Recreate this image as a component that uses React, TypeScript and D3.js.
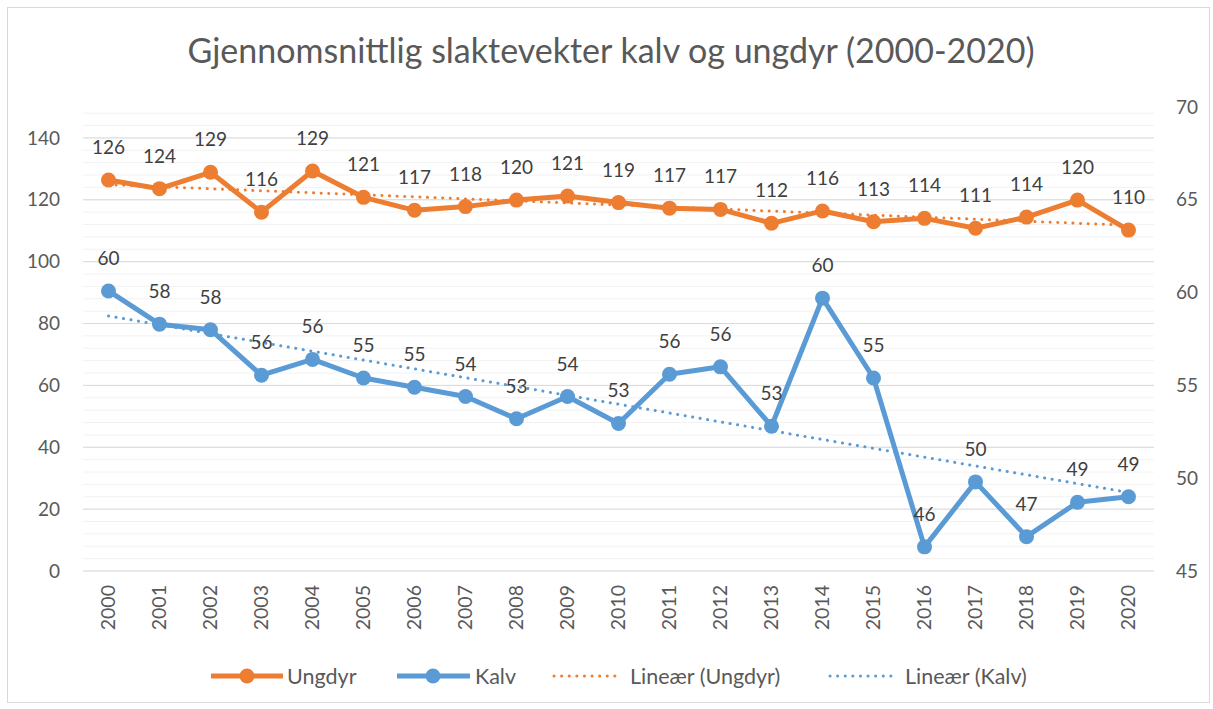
import React from "react";
import * as d3 from "d3";

const years = ["2000","2001","2002","2003","2004","2005","2006","2007","2008","2009","2010","2011","2012","2013","2014","2015","2016","2017","2018","2019","2020"];
const ungdyr = [126.4,123.6,128.9,116.0,129.3,120.8,116.6,117.8,119.9,121.2,119.1,117.3,116.9,112.4,116.4,112.9,114.0,110.8,114.4,119.9,110.2];
const kalv = [60.09,58.3,58.0,55.55,56.4,55.4,54.9,54.4,53.2,54.4,52.95,55.6,56.0,52.8,59.7,55.4,46.3,49.8,46.85,48.7,49.0];
const leftTicks = [0,20,40,60,80,100,120,140];
const rightTicks = [45,50,55,60,65,70];
const title = "Gjennomsnittlig slaktevekter kalv og ungdyr (2000-2020)";

const ORANGE = "#ED7D31";
const BLUE = "#5B9BD5";
const FONT = "Lato, 'Open Sans', sans-serif";

function linReg(vals: number[]) {
  const n = vals.length;
  const xs = vals.map((_, i) => i);
  const mx = d3.mean(xs)!;
  const my = d3.mean(vals)!;
  let num = 0, den = 0;
  xs.forEach((x, i) => { num += (x - mx) * (vals[i] - my); den += (x - mx) ** 2; });
  const b = num / den;
  const a = my - b * mx;
  return [a, a + b * (n - 1)];
}

export default function App() {
  const W = 1213, H = 709;
  const x = d3.scaleBand().domain(years).range([83, 1154]).padding(0);
  const cx = (y: string) => (x(y) as number) + x.bandwidth() / 2;
  const yL = d3.scaleLinear().domain([0, 150]).range([571, 107]);
  const yR = d3.scaleLinear().domain([45, 70]).range([571, 107]);
  const minor = d3.range(0, 149, 4);
  const fmt = d3.format(".0f");

  const lineU = d3.line<number>().x((_, i) => cx(years[i])).y(d => yL(d));
  const lineK = d3.line<number>().x((_, i) => cx(years[i])).y(d => yR(d));
  const tU = linReg(ungdyr);
  const tK = linReg(kalv);
  const x0 = cx(years[0]), x1 = cx(years[years.length - 1]);

  const legendY = 676;

  return (
    <svg width={W} height={H} style={{ position: "absolute", left: 0, top: 0, display: "block", background: "#fff" }} fontFamily={FONT}>
      <rect x={0} y={0} width={W} height={H} fill="#fff" />
      <rect x={7.5} y={7.5} width={1202} height={695} fill="none" stroke="#D9D9D9" strokeWidth={1} />
      <text x={611} y={63} textAnchor="middle" fontSize={34} fill="#595959">{title}</text>

      {minor.map(v => (
        <line key={"m" + v} x1={83} x2={1154} y1={yL(v)} y2={yL(v)} stroke="#F2F2F2" strokeWidth={1} />
      ))}
      {leftTicks.map(v => (
        <line key={"g" + v} x1={83} x2={1154} y1={yL(v)} y2={yL(v)} stroke="#D9D9D9" strokeWidth={1} />
      ))}
      {leftTicks.map(v => (
        <text key={"l" + v} x={60} y={yL(v)} dy="0.35em" textAnchor="end" fontSize={19} fill="#595959">{v}</text>
      ))}
      {rightTicks.map(v => (
        <text key={"r" + v} x={1176} y={yR(v)} dy="0.35em" textAnchor="start" fontSize={19} fill="#595959">{v}</text>
      ))}
      {years.map(y => (
        <text key={"x" + y} transform={`translate(${cx(y)},585) rotate(-90)`} dy="0.35em" textAnchor="end" fontSize={19.5} fill="#595959">{y}</text>
      ))}

      <path d={lineU(ungdyr) || ""} fill="none" stroke={ORANGE} strokeWidth={5} strokeLinejoin="round" />
      {ungdyr.map((v, i) => <circle key={"cu" + i} cx={cx(years[i])} cy={yL(v)} r={7.5} fill={ORANGE} />)}
      <path d={lineK(kalv) || ""} fill="none" stroke={BLUE} strokeWidth={5} strokeLinejoin="round" />
      {kalv.map((v, i) => <circle key={"ck" + i} cx={cx(years[i])} cy={yR(v)} r={7.5} fill={BLUE} />)}

      <line x1={x0} x2={x1} y1={yL(tU[0])} y2={yL(tU[1])} stroke={ORANGE} strokeWidth={3} strokeDasharray="0.1 7.5" strokeLinecap="round" />
      <line x1={x0} x2={x1} y1={yR(tK[0])} y2={yR(tK[1])} stroke={BLUE} strokeWidth={3} strokeDasharray="0.1 7.5" strokeLinecap="round" />

      {ungdyr.map((v, i) => (
        <text key={"tu" + i} x={cx(years[i])} y={yL(v) - 26} textAnchor="middle" fontSize={19} fill="#404040">{fmt(v)}</text>
      ))}
      {kalv.map((v, i) => (
        <text key={"tk" + i} x={cx(years[i])} y={yR(v) - 26} textAnchor="middle" fontSize={19} fill="#404040">{fmt(v)}</text>
      ))}

      <g fontSize={21.5} fill="#595959">
        <line x1={211} x2={283} y1={legendY} y2={legendY} stroke={ORANGE} strokeWidth={5} />
        <circle cx={247} cy={legendY} r={7.5} fill={ORANGE} />
        <text x={287} y={legendY} dy="0.35em">Ungdyr</text>
        <line x1={397} x2={470} y1={legendY} y2={legendY} stroke={BLUE} strokeWidth={5} />
        <circle cx={433} cy={legendY} r={7.5} fill={BLUE} />
        <text x={475} y={legendY} dy="0.35em">Kalv</text>
        <line x1={554} x2={621} y1={legendY} y2={legendY} stroke={ORANGE} strokeWidth={3} strokeDasharray="0.1 7.5" strokeLinecap="round" />
        <text x={630} y={legendY} dy="0.35em">Lineær (Ungdyr)</text>
        <line x1={830} x2={898} y1={legendY} y2={legendY} stroke={BLUE} strokeWidth={3} strokeDasharray="0.1 7.5" strokeLinecap="round" />
        <text x={905} y={legendY} dy="0.35em">Lineær (Kalv)</text>
      </g>
    </svg>
  );
}
